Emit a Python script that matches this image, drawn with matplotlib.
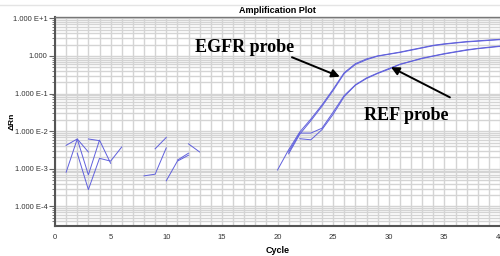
import numpy as np
import matplotlib
matplotlib.use('Agg')
import matplotlib.pyplot as plt

plt.rcParams['font.family'] = ['Liberation Sans', 'DejaVu Sans']

nan = np.nan

# cycle numbers and delta Rn for each well (gaps = negative values not drawn on log axis)
cycles = np.arange(1, 41)

egfr_1 = [8.1e-4, 6.2e-3, 6.9e-4, 5.8e-3, 1.4e-3, nan, nan, nan, 3.4e-3, 6.8e-3,
          nan, 4.6e-3, 2.8e-3, nan, nan, nan, nan, nan, nan, 9.3e-4,
          3.2e-3, 9.5e-3, 0.021, 0.050, 0.13, 0.36, 0.62, 0.83, 1.00, 1.12,
          1.26, 1.45, 1.66, 1.91, 2.09, 2.24, 2.40, 2.51, 2.63, 2.75]

egfr_2 = [4.2e-3, 6.2e-3, 2.8e-3, nan, nan, nan, nan, 6.5e-4, 7.2e-4, 3.6e-3,
          nan, nan, nan, nan, nan, nan, nan, nan, nan, nan,
          2.5e-3, 8.3e-3, 0.019, 0.046, 0.12, 0.34, 0.59, 0.79, 0.98, 1.10,
          1.23, 1.41, 1.62, 1.86, 2.04, 2.19, 2.34, 2.45, 2.57, 2.69]

ref_1 = [nan, 2.6e-3, 2.8e-4, 1.9e-3, 1.6e-3, 3.8e-3, nan, nan, nan, 4.8e-4,
         1.6e-3, 2.3e-3, nan, nan, nan, nan, nan, nan, nan, nan,
         2.8e-3, 8.9e-3, 8.9e-3, 0.012, 0.032, 0.089, 0.17, 0.26, 0.35, 0.46,
         0.60, 0.72, 0.87, 1.00, 1.15, 1.29, 1.45, 1.58, 1.70, 1.82]

ref_2 = [nan, nan, 6.2e-3, 5.6e-3, nan, nan, nan, nan, nan, nan,
         1.7e-3, 2.6e-3, nan, nan, nan, nan, nan, nan, nan, nan,
         nan, 6.3e-3, 5.9e-3, 0.011, 0.028, 0.083, 0.166, 0.25, 0.34, 0.44,
         0.59, 0.71, 0.85, 0.98, 1.12, 1.26, 1.41, 1.55, 1.66, 1.78]

wells = [egfr_1, egfr_2, ref_1, ref_2]

ytick_vals = [1e-4, 1e-3, 1e-2, 1e-1, 1, 10]
ytick_labels = ['1.000 E-4', '1.000 E-3', '1.000 E-2', '1.000 E-1', '1.000', '1.000 E+1']
xtick_vals = [0, 5, 10, 15, 20, 25, 30, 35, 40]


fig = plt.figure(figsize=(5, 2.56), dpi=100)
ax = fig.add_axes([0.11, 0.117, 0.89, 0.817])

for w in wells:
    ax.plot(cycles, w, color='#6060dc', lw=0.7)

ax.set_yscale('log')
ax.set_xlim(0, 40)
ax.set_ylim(10**-4.52, 10**1.035)

ax.set_yticks(ytick_vals)
ax.set_yticklabels(ytick_labels)
ax.set_xticks(xtick_vals)
ax.set_xticks(np.arange(0, 41), minor=True)

ax.grid(which='both', color='#d4d4d4', lw=1.0)
ax.set_axisbelow(True)

ax.tick_params(axis='both', which='both', labelsize=5.5, labelcolor='#333333', colors='#666666')
ax.tick_params(axis='x', which='both', length=0, pad=6)
ax.tick_params(axis='y', which='major', length=4, pad=1.5)
ax.tick_params(axis='y', which='minor', length=2)

for s in ['left', 'bottom']:
    ax.spines[s].set_color('#555555')
    ax.spines[s].set_linewidth(1.5)
ax.spines['top'].set_color('#777777')
ax.spines['top'].set_linewidth(1.0)
ax.spines['right'].set_visible(False)

ax.set_title('Amplification Plot', fontsize=6.5, fontweight='bold', pad=2.5)
ax.set_xlabel('Cycle', fontsize=6.5, fontweight='bold', labelpad=3)
fig.text(0.024, 0.525, '\u0394Rn', rotation=90, fontsize=6, fontweight='bold',
         ha='center', va='center')

# light window line at the top
fig.add_artist(plt.Line2D([0, 1], [0.98, 0.98], color='#e4e4e4', lw=1))

serif = ['Liberation Serif', 'DejaVu Serif']
ax.text(12.6, 1.27, 'EGFR probe', family=serif, fontsize=13, fontweight='bold',
        ha='left', va='baseline')
ax.text(27.8, 0.0197, 'REF probe', family=serif, fontsize=13, fontweight='bold',
        ha='left', va='baseline')

arrow = dict(arrowstyle='-|>', color='black', lw=1.4, mutation_scale=12,
             shrinkA=0, shrinkB=0)
ax.annotate('', xy=(25.6, 0.28), xytext=(21.3, 0.92), arrowprops=arrow)
ax.annotate('', xy=(30.2, 0.50), xytext=(35.5, 0.079), arrowprops=arrow)

fig.savefig('out.png', dpi=100)
